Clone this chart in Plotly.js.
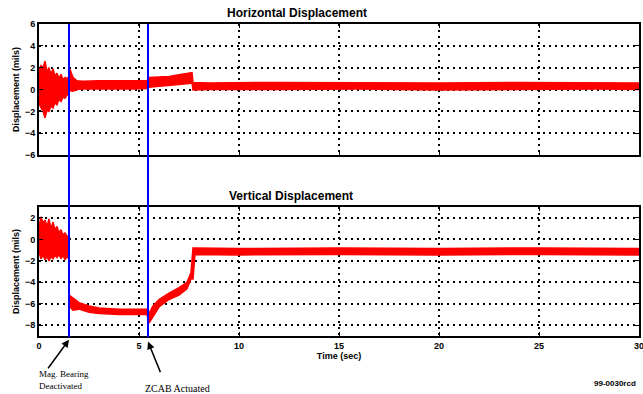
<!DOCTYPE html>
<html><head><meta charset="utf-8">
<script src="https://cdn.plot.ly/plotly-3.0.1.min.js"></script>
<style>html,body{margin:0;padding:0;background:#fff}#c{width:643px;height:394px}</style>
</head><body><div id="c"></div>
<script>
// Horizontal displacement envelope (mils)
const topT  = [0,0.1,0.2,0.3,0.4,0.5,0.6,0.7,0.8,0.9,1.0,1.1,1.2,1.3,1.4,1.5,1.55,1.7,1.9,2.2,3.0,4.0,4.7,5.4,5.5,6.0,6.5,7.0,7.5,7.65,7.7,8.5,12,16,20,24,28,30];
const topHi = [1.8,2.2,2.0,2.6,1.6,2.0,1.4,1.9,1.2,1.5,1.0,1.4,0.9,1.1,1.0,1.2,1.85,1.1,0.8,0.75,0.8,0.8,0.85,0.8,1.1,1.15,1.2,1.35,1.5,1.55,0.65,0.6,0.65,0.6,0.6,0.65,0.6,0.6];
const topLo = [-1.3,-1.6,-2.0,-2.6,-1.9,-2.0,-1.5,-1.7,-1.2,-1.4,-0.9,-1.1,-0.7,-0.8,-0.5,-0.3,-0.1,-0.15,0.0,0.05,0.05,0.0,0.05,0.1,0.2,0.3,0.35,0.45,0.55,0.6,-0.05,0.0,0.0,0.05,-0.05,0.0,0.05,0.0];
// Vertical displacement envelope (mils)
const botT  = [0,0.1,0.2,0.3,0.4,0.5,0.6,0.7,0.8,0.9,1.0,1.1,1.2,1.3,1.4,1.49,1.51,1.7,2.0,2.5,3.0,4.0,5.0,5.4,5.5,5.7,6.0,6.5,7.0,7.4,7.6,7.7,7.8,10,15,20,25,30];
const botHi = [1.2,2.1,1.5,1.8,1.2,1.9,1.0,1.6,0.9,1.2,0.6,0.9,0.4,0.6,0.3,0.2,-5.2,-5.5,-5.9,-6.2,-6.4,-6.5,-6.5,-6.5,-6.9,-6.2,-5.6,-5.0,-4.5,-4.0,-3.1,-0.8,-0.8,-0.85,-0.8,-0.85,-0.8,-0.85];
const botLo = [-1.2,-1.8,-1.5,-1.9,-1.6,-2.0,-1.6,-1.8,-1.5,-1.7,-1.4,-1.8,-1.5,-1.9,-1.6,-1.8,-6.2,-6.6,-6.5,-6.8,-6.9,-7.0,-7.0,-7.0,-7.8,-7.2,-6.3,-5.6,-5.2,-4.6,-3.7,-3.7,-1.4,-1.45,-1.4,-1.45,-1.4,-1.45];
const eventTimes = [1.5, 5.45];
const topTicks = [-6,-4,-2,0,2,4,6];
const botTicks = [-8,-6,-4,-2,0,2];
const xTicks = [0,5,10,15,20,25,30];

const red = '#ff0000';
const tr = (x, y, xa, ya, fill) => ({x, y, xaxis: xa, yaxis: ya, type: 'scatter', mode: 'lines',
  line: {color: red, width: 1.5}, fill: fill, fillcolor: red, hoverinfo: 'skip', showlegend: false});
const data = [
  tr(topT, topLo, 'x', 'y', 'none'), tr(topT, topHi, 'x', 'y', 'tonexty'),
  tr(botT, botLo, 'x2', 'y2', 'none'), tr(botT, botHi, 'x2', 'y2', 'tonexty')
];
const bold = {family: 'Liberation Sans, Arial, sans-serif', size: 9, color: '#000', weight: 'bold'};
const axBase = {showline: true, mirror: 'ticks', linecolor: '#000', linewidth: 2, ticks: 'inside', ticklen: 4,
  tickcolor: '#000', tickwidth: 1, showgrid: true, gridcolor: '#000', griddash: '2px,4px', gridwidth: 2,
  zeroline: false, tickfont: bold, ticklabeloverflow: 'allow'};
const layout = {
  width: 643, height: 394, paper_bgcolor: '#fff', plot_bgcolor: '#fff',
  margin: {l: 39, r: 4, t: 24, b: 58},
  xaxis: Object.assign({}, axBase, {domain: [0, 1], range: [0, 30], tickvals: xTicks, showticklabels: false, anchor: 'y'}),
  yaxis: Object.assign({}, axBase, {domain: [0.58, 1], range: [-6, 6], tickvals: topTicks, anchor: 'x',
    title: {text: 'Displacement (mils)', font: bold, standoff: 4}}),
  xaxis2: Object.assign({}, axBase, {domain: [0, 1], range: [0, 30], tickvals: xTicks, anchor: 'y2',
    title: {text: 'Time (sec)', font: bold, standoff: 2}}),
  yaxis2: Object.assign({}, axBase, {domain: [0, 0.413], range: [-9, 3], tickvals: botTicks, anchor: 'x2',
    title: {text: 'Displacement (mils)', font: bold, standoff: 4}}),
  shapes: eventTimes.map(t => ({type: 'line', xref: 'x', yref: 'paper', x0: t, x1: t, y0: -0.003, y1: 1.0,
    line: {color: '#0000ff', width: 2}})),
  annotations: [
    {text: 'Horizontal Displacement', xref: 'paper', yref: 'paper', x: 0.43, y: 1.0, yshift: 11, yanchor: 'middle',
      showarrow: false, font: {family: 'Liberation Sans, Arial, sans-serif', size: 12, color: '#000', weight: 'bold'}},
    {text: 'Vertical Displacement', xref: 'paper', yref: 'paper', x: 0.42, y: 0.413, yshift: 11, yanchor: 'middle',
      showarrow: false, font: {family: 'Liberation Sans, Arial, sans-serif', size: 12, color: '#000', weight: 'bold'}},
    {text: '', xref: 'x2', yref: 'paper', x: eventTimes[0], y: -0.012, showarrow: true, arrowhead: 2, arrowsize: 1,
      arrowwidth: 1.5, arrowcolor: '#000', ax: -22, ay: 30},
    {text: '', xref: 'x2', yref: 'paper', x: eventTimes[1], y: -0.018, showarrow: true, arrowhead: 2, arrowsize: 1,
      arrowwidth: 1.5, arrowcolor: '#000', ax: 13, ay: 32},
    {text: 'Mag. Bearing<br>Deactivated', xref: 'paper', yref: 'paper', x: -0.003, y: -0.1, xanchor: 'left', yanchor: 'top',
      align: 'left', showarrow: false, font: {family: 'Liberation Serif, Times New Roman, serif', size: 9, color: '#000'}},
    {text: 'ZCAB Actuated', xref: 'paper', yref: 'paper', x: 0.173, y: -0.145, xanchor: 'left', yanchor: 'top',
      showarrow: false, font: {family: 'Liberation Serif, Times New Roman, serif', size: 10, color: '#000'}},
    {text: '99-0030rcd', xref: 'paper', yref: 'paper', x: 0.998, y: -0.13, xanchor: 'right', yanchor: 'top',
      showarrow: false, font: {family: 'Liberation Sans, Arial, sans-serif', size: 8, color: '#000', weight: 'bold'}}
  ]
};
Plotly.newPlot('c', data, layout, {displayModeBar: false, staticPlot: true});
</script></body></html>
